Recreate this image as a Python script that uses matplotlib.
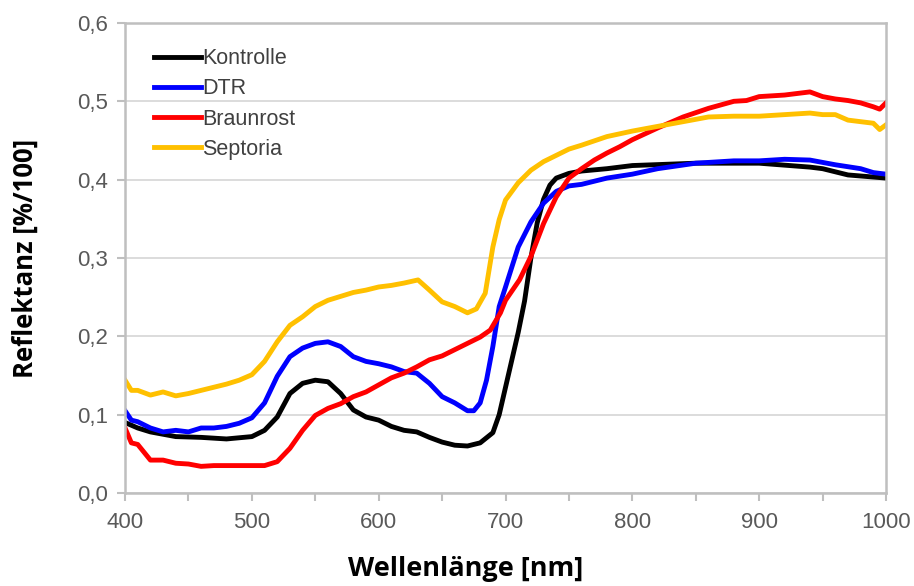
import matplotlib.pyplot as plt
from matplotlib.ticker import FuncFormatter, MultipleLocator

# Daten
wl_kontrolle = [400, 410, 420, 440, 460, 480, 500, 510, 520, 530, 540, 550, 560, 570, 580, 590,
                600, 610, 620, 630, 640, 650, 660, 670, 680, 690, 695, 700, 705, 710, 715, 720,
                725, 730, 735, 740, 750, 760, 780, 800, 850, 900, 940, 950, 970, 1000]
kontrolle = [0.090, 0.083, 0.078, 0.072, 0.071, 0.069, 0.072, 0.080, 0.097, 0.127, 0.140, 0.144,
             0.142, 0.127, 0.106, 0.097, 0.093, 0.085, 0.080, 0.078, 0.071, 0.065, 0.061, 0.060,
             0.064, 0.077, 0.100, 0.135, 0.170, 0.205, 0.245, 0.300, 0.345, 0.375, 0.393, 0.402,
             0.408, 0.411, 0.414, 0.418, 0.421, 0.421, 0.416, 0.414, 0.406, 0.402]

wl_dtr = [400, 405, 410, 420, 430, 440, 450, 460, 470, 480, 490, 500, 510, 520, 530, 540, 550,
          560, 570, 580, 590, 600, 610, 620, 630, 640, 650, 660, 670, 675, 680, 685, 690, 695,
          700, 710, 720, 730, 740, 750, 760, 780, 800, 820, 850, 880, 900, 920, 940, 960, 980,
          990, 1000]
dtr = [0.105, 0.093, 0.091, 0.083, 0.078, 0.080, 0.078, 0.083, 0.083, 0.085, 0.089, 0.096, 0.115,
       0.149, 0.174, 0.185, 0.191, 0.193, 0.187, 0.174, 0.168, 0.165, 0.161, 0.155, 0.153, 0.140,
       0.123, 0.115, 0.105, 0.105, 0.115, 0.144, 0.187, 0.238, 0.263, 0.314, 0.346, 0.370, 0.385,
       0.392, 0.394, 0.402, 0.407, 0.414, 0.421, 0.424, 0.424, 0.426, 0.425, 0.419, 0.414, 0.409,
       0.407]

wl_braunrost = [400, 405, 410, 420, 430, 440, 450, 460, 470, 480, 490, 500, 510, 520, 530, 540,
                550, 560, 570, 580, 590, 600, 610, 620, 630, 640, 650, 660, 670, 680, 688, 696,
                700, 711, 720, 730, 740, 750, 760, 770, 780, 790, 800, 820, 840, 860, 880, 890,
                900, 920, 940, 950, 960, 970, 980, 990, 995, 1000]
braunrost = [0.083, 0.064, 0.062, 0.042, 0.042, 0.038, 0.037, 0.034, 0.035, 0.035, 0.035, 0.035,
             0.035, 0.040, 0.057, 0.080, 0.099, 0.108, 0.114, 0.123, 0.129, 0.138, 0.147, 0.153,
             0.161, 0.170, 0.175, 0.183, 0.191, 0.199, 0.208, 0.230, 0.246, 0.272, 0.302, 0.344,
             0.378, 0.402, 0.414, 0.425, 0.434, 0.442, 0.451, 0.466, 0.480, 0.491, 0.500, 0.501,
             0.506, 0.508, 0.512, 0.506, 0.503, 0.501, 0.498, 0.493, 0.490, 0.498]

wl_septoria = [400, 405, 410, 420, 430, 440, 450, 460, 470, 480, 490, 500, 510, 520, 530, 540,
               550, 560, 570, 580, 590, 600, 610, 620, 631, 640, 650, 660, 670, 677, 684, 690,
               695, 700, 710, 720, 730, 740, 750, 760, 780, 800, 820, 840, 860, 880, 900, 920,
               940, 950, 960, 970, 980, 990, 995, 1000]
septoria = [0.144, 0.131, 0.131, 0.125, 0.129, 0.124, 0.127, 0.131, 0.135, 0.139, 0.144, 0.151,
            0.168, 0.193, 0.214, 0.225, 0.238, 0.246, 0.251, 0.256, 0.259, 0.263, 0.265, 0.268,
            0.272, 0.259, 0.244, 0.238, 0.230, 0.235, 0.255, 0.314, 0.349, 0.374, 0.396, 0.412,
            0.423, 0.431, 0.439, 0.444, 0.455, 0.462, 0.468, 0.474, 0.480, 0.481, 0.481, 0.483,
            0.485, 0.483, 0.483, 0.476, 0.474, 0.472, 0.464, 0.470]

fig = plt.figure(figsize=(9.14, 5.86), dpi=100)
ax = fig.add_axes([0.1368, 0.1587, 0.8326, 0.8021])

lw = 3.5
ax.plot(wl_kontrolle, kontrolle, color='#000000', lw=lw, label='Kontrolle')
ax.plot(wl_dtr, dtr, color='#0000FF', lw=lw, label='DTR')
ax.plot(wl_braunrost, braunrost, color='#FF0000', lw=lw, label='Braunrost')
ax.plot(wl_septoria, septoria, color='#FFC000', lw=lw, label='Septoria')

ax.set_xlim(400, 1000)
ax.set_ylim(0, 0.6)
ax.xaxis.set_major_locator(MultipleLocator(100))
ax.xaxis.set_minor_locator(MultipleLocator(50))
ax.yaxis.set_major_locator(MultipleLocator(0.1))
ax.yaxis.set_major_formatter(FuncFormatter(lambda v, p: f'{v:.1f}'.replace('.', ',')))

ax.grid(axis='y', color='#D9D9D9', lw=1.3)
ax.set_axisbelow(True)
for s in ax.spines.values():
    s.set_color('#BFBFBF')
    s.set_linewidth(1.8)

ax.tick_params(which='both', color='#BFBFBF', width=1.5, direction='out')
ax.tick_params(axis='x', which='major', length=6, pad=8)
ax.tick_params(axis='x', which='minor', length=6)
ax.tick_params(axis='y', length=6, pad=6)
for lab in ax.get_xticklabels() + ax.get_yticklabels():
    lab.set_fontfamily('Liberation Sans')
    lab.set_fontsize(16)
    lab.set_color('#595959')

ax.set_xlabel('Wellenlänge [nm]', fontfamily='Open Sans', fontweight='bold', fontsize=19.5)
ax.xaxis.set_label_coords(0.447, -0.135)
ax.set_ylabel('Reflektanz [%/100]', fontfamily='Open Sans', fontweight='bold', fontsize=18.5)
ax.yaxis.set_label_coords(-0.113, 0.5)

leg = ax.legend(loc='upper left', bbox_to_anchor=(0.012, 0.987), frameon=False,
                prop={'family': 'Liberation Sans', 'size': 15.5}, handlelength=2.2,
                handletextpad=0.05, labelspacing=0.42)
for t in leg.get_texts():
    t.set_color('#404040')

fig.savefig('out.png', dpi=100)
